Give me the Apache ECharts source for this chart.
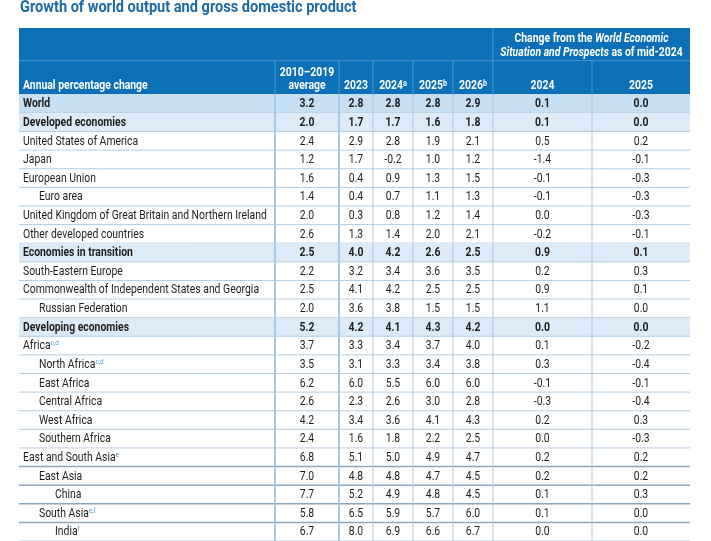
<!DOCTYPE html>
<html>
<head>
<meta charset="utf-8">
<script src="https://cdn.jsdelivr.net/npm/echarts@6/dist/echarts.min.js"></script>
<style>
html,body{margin:0;padding:0;background:#fff;}
#chart{width:711px;height:541px;}
</style>
</head>
<body>
<div id="chart"></div>
<script>
// ---------------- DATA ----------------
const titleText = 'Growth of world output and gross domestic product';
const stubHeader = 'Annual percentage change';
const colHeaders = ['2010–2019\naverage', '2023', '2024{sup|a}', '2025{sup|b}', '2026{sup|b}', '2024', '2025'];
const groupHeader = ['Change from the {it|World Economic}', '{it|Situation and Prospects} as of mid-2024'];

const rowLabels = [
  'World', 'Developed economies', 'United States of America', 'Japan', 'European Union', 'Euro area',
  'United Kingdom of Great Britain and Northern Ireland', 'Other developed countries',
  'Economies in transition', 'South-Eastern Europe', 'Commonwealth of Independent States and Georgia',
  'Russian Federation', 'Developing economies', 'Africa', 'North Africa', 'East Africa', 'Central Africa',
  'West Africa', 'Southern Africa', 'East and South Asia', 'East Asia', 'China', 'South Asia', 'India'
];
const rowNotes = ['', '', '', '', '', '', '', '', '', '', '', '', '', 'c,d', 'c,d', '', '', '', '', 'e', '', '', 'e,f', 'f'];
const rowIndent = [0, 0, 0, 0, 0, 1, 0, 0, 0, 0, 0, 1, 0, 0, 1, 1, 1, 1, 1, 0, 1, 2, 1, 2];
const rowBold = [1, 1, 0, 0, 0, 0, 0, 0, 1, 0, 0, 0, 1, 0, 0, 0, 0, 0, 0, 0, 0, 0, 0, 0];

const avg2010_2019 = [3.2, 2.0, 2.4, 1.2, 1.6, 1.4, 2.0, 2.6, 2.5, 2.2, 2.5, 2.0, 5.2, 3.7, 3.5, 6.2, 2.6, 4.2, 2.4, 6.8, 7.0, 7.7, 5.8, 6.7];
const g2023 = [2.8, 1.7, 2.9, 1.7, 0.4, 0.4, 0.3, 1.3, 4.0, 3.2, 4.1, 3.6, 4.2, 3.3, 3.1, 6.0, 2.3, 3.4, 1.6, 5.1, 4.8, 5.2, 6.5, 8.0];
const g2024 = [2.8, 1.7, 2.8, -0.2, 0.9, 0.7, 0.8, 1.4, 4.2, 3.4, 4.2, 3.8, 4.1, 3.4, 3.3, 5.5, 2.6, 3.6, 1.8, 5.0, 4.8, 4.9, 5.9, 6.9];
const g2025 = [2.8, 1.6, 1.9, 1.0, 1.3, 1.1, 1.2, 2.0, 2.6, 3.6, 2.5, 1.5, 4.3, 3.7, 3.4, 6.0, 3.0, 4.1, 2.2, 4.9, 4.7, 4.8, 5.7, 6.6];
const g2026 = [2.9, 1.8, 2.1, 1.2, 1.5, 1.3, 1.4, 2.1, 2.5, 3.5, 2.5, 1.5, 4.2, 4.0, 3.8, 6.0, 2.8, 4.3, 2.5, 4.7, 4.5, 4.5, 6.0, 6.7];
const chg2024 = [0.1, 0.1, 0.5, -1.4, -0.1, -0.1, 0.0, -0.2, 0.9, 0.2, 0.9, 1.1, 0.0, 0.1, 0.3, -0.1, -0.3, 0.2, 0.0, 0.2, 0.2, 0.1, 0.1, 0.0];
const chg2025 = [0.0, 0.0, 0.2, -0.1, -0.3, -0.3, -0.3, -0.1, 0.1, 0.3, 0.1, 0.0, 0.0, -0.2, -0.4, -0.1, -0.4, 0.3, -0.3, 0.2, 0.2, 0.3, 0.0, 0.0];
const valueColumns = [avg2010_2019, g2023, g2024, g2025, g2026, chg2024, chg2025];

// ---------------- LAYOUT / STYLE ----------------
const COL_EDGES = [0, 256, 320, 354, 394, 434, 474, 573, 671]; // x-axis units
const ROW_H = 18.8;
const HEAD_H = 67 / ROW_H;        // header height in row units
const HEAD_SPLIT = -34 / ROW_H;   // split line inside header
const FONT = 'Roboto';
const FS = 13;
const SX = 0.8;                   // condensed look
const C_HEAD = '#0b70b8';
const C_HEAD_LINE = '#4d95cd';
const C_WORLD = '#c7dff2';
const C_GROUP = '#dcebf7';
const C_LINE = '#b3cde2';
const C_LINE_DARK = '#8ba6bd';
const C_VLINE = '#a9c8e1';
const C_TEXT = '#1e1e1e';
const C_NOTE = '#4a9fd6';

function txt(x, y, text, opt) {
  return {
    type: 'text', x: x, y: y, scaleX: SX, scaleY: 1,
    style: Object.assign({
      x: 0, y: 0, text: text, fontFamily: FONT, fontSize: FS,
      fill: C_TEXT, align: 'center', verticalAlign: 'middle', lineHeight: 14
    }, opt || {})
  };
}

function renderBody(params, api) {
  const i = api.value(0);
  const top = api.coord([0, i])[1];
  const bot = api.coord([0, i + 1])[1];
  const xs = COL_EDGES.map(e => api.coord([e, i])[0]);
  const cy = (top + bot) / 2 + 0.5;
  const ch = [];
  const bold = rowBold[i];
  if (bold) {
    ch.push({ type: 'rect', shape: { x: xs[0], y: top, width: xs[8] - xs[0], height: bot - top },
      style: { fill: i === 0 ? C_WORLD : C_GROUP } });
  }
  const dark = i >= 19 && i <= 22;
  ch.push({ type: 'line', shape: { x1: xs[0], y1: bot, x2: xs[8], y2: bot },
    style: { stroke: dark ? C_LINE_DARK : C_LINE, lineWidth: dark ? 1.5 : 1 } });
  for (let k = 1; k <= 7; k++) {
    ch.push({ type: 'line', shape: { x1: xs[k], y1: top, x2: xs[k], y2: bot },
      style: { stroke: C_VLINE, lineWidth: k <= 2 ? 2 : 1 } });
  }
  const note = rowNotes[i] ? '{sup|' + rowNotes[i] + '}' : '';
  ch.push(txt(xs[0] + 4 + rowIndent[i] * 16, cy, rowLabels[i] + note, {
    align: 'left', fontWeight: bold ? 'bold' : 'normal',
    rich: { sup: { fontSize: 8, fill: C_NOTE, verticalAlign: 'top', lineHeight: 14, fontFamily: FONT } }
  }));
  for (let c = 0; c < 7; c++) {
    const v = api.value(c + 1);
    ch.push(txt((xs[c + 1] + xs[c + 2]) / 2, cy, v.toFixed(1), { fontWeight: bold ? 'bold' : 'normal' }));
  }
  return { type: 'group', children: ch };
}

function renderHeader(params, api) {
  const t = api.coord([0, -HEAD_H])[1];
  const b = api.coord([0, 0])[1];
  const s = api.coord([0, HEAD_SPLIT])[1];
  const xs = COL_EDGES.map(e => api.coord([e, 0])[0]);
  const ch = [];
  ch.push({ type: 'rect', shape: { x: xs[0], y: t, width: xs[8] - xs[0], height: b - t }, style: { fill: C_HEAD } });
  ch.push({ type: 'line', shape: { x1: xs[0], y1: s, x2: xs[8], y2: s }, style: { stroke: C_HEAD_LINE, lineWidth: 1 } });
  for (let k = 1; k <= 7; k++) {
    ch.push({ type: 'line', shape: { x1: xs[k], y1: k === 6 ? t : s, x2: xs[k], y2: b },
      style: { stroke: C_HEAD_LINE, lineWidth: 1 } });
  }
  const w = { fill: '#ffffff', fontWeight: 'bold', rich: {
    sup: { fontSize: 9, fill: '#ffffff', fontWeight: 'bold', verticalAlign: 'top', lineHeight: 14, fontFamily: FONT },
    it: { fontStyle: 'italic', fontWeight: 'bold', fill: '#ffffff', fontSize: FS, fontFamily: FONT }
  } };
  const yLow = b - 8.5;
  ch.push(txt(xs[0] + 4, yLow, stubHeader, Object.assign({}, w, { align: 'left' })));
  for (let c = 0; c < 7; c++) {
    const cx = (xs[c + 1] + xs[c + 2]) / 2;
    const parts = colHeaders[c].split('\n');
    parts.forEach((p, j) => {
      ch.push(txt(cx, yLow - (parts.length - 1 - j) * 13.5, p, w));
    });
  }
  const gx = (xs[6] + xs[8]) / 2;
  ch.push(txt(gx, t + 10.5, groupHeader[0], w));
  ch.push(txt(gx, t + 24.5, groupHeader[1], w));
  return { type: 'group', children: ch };
}

const chart = echarts.init(document.getElementById('chart'), null, { renderer: 'canvas' });
const bodyData = rowLabels.map((_, i) => [i].concat(valueColumns.map(col => col[i])));

chart.setOption({
  backgroundColor: '#ffffff',
  animation: false,
  graphic: [{
    type: 'text', left: 20, top: 0, scaleX: 0.91,
    style: { text: titleText, fontFamily: FONT, fontSize: 16, fontWeight: 'bold', fill: '#1b6aa6' }
  }],
  grid: { left: 19, top: 28, width: 671, height: (24 + HEAD_H) * ROW_H },
  xAxis: { type: 'value', min: 0, max: 671, show: false },
  yAxis: { type: 'value', min: -HEAD_H, max: 24, inverse: true, show: false },
  series: [
    { type: 'custom', renderItem: renderHeader, data: [[0]], clip: false, silent: true },
    { type: 'custom', renderItem: renderBody, data: bodyData, clip: false, silent: true }
  ]
});
</script>
</body>
</html>
